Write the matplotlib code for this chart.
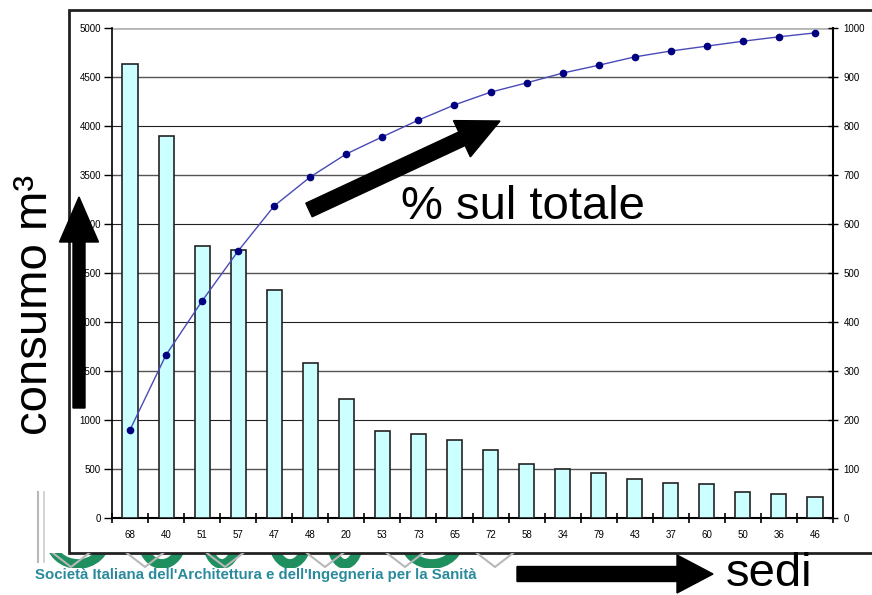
import matplotlib.pyplot as plt
import numpy as np
from matplotlib.patches import Ellipse, FancyArrow, Rectangle

plt.rcParams["font.family"] = ["Liberation Sans", "DejaVu Sans"]

sedi = ["68", "40", "51", "57", "47", "48", "20", "53", "73", "65",
        "72", "58", "34", "79", "43", "37", "60", "50", "36", "46"]
consumo = [4630, 3900, 2776, 2735, 2327, 1582, 1214, 888, 857, 796,
           694, 551, 500, 459, 398, 357, 347, 265, 245, 214]
cumulata = [180, 333, 443, 545, 637, 696, 743, 778, 812, 843,
            869, 888, 908, 924, 941, 953, 963, 973, 982, 990]

W, H = 872, 595
fig = plt.figure(figsize=(W / 100, H / 100), dpi=100)

# background layer: logo remnants and the white frame of the chart
bg = fig.add_axes([0, 0, 1, 1], zorder=0)
bg.set_xlim(0, W)
bg.set_ylim(H, 0)
bg.axis("off")
strip = Rectangle((0, 553), W, 15, transform=bg.transData)
for x0 in [36, 110, 190, 290, 370, 460]:
    (chev,) = bg.plot([x0, x0 + 35, x0 + 70], [540, 567, 540], color="#b8b8b8", lw=1.5)
    chev.set_clip_path(strip)
bg.plot([38, 38], [492, 562], color="#b8b8b8", lw=1.5)
bg.plot([44, 44], [492, 562], color="#cccccc", lw=1.2)
for cx, w in [(78, 56), (162, 40), (222, 30), (290, 34), (345, 28), (432, 56)]:
    ring = Ellipse((cx, 538), w, 52, fill=False, edgecolor="#1f8f5f", lw=7)
    bg.add_patch(ring)
    ring.set_clip_path(strip)
bg.add_patch(Rectangle((69, 10), 820, 543, facecolor="white", edgecolor="#222222", lw=2))
bg.text(35, 575, "Società Italiana dell'Architettura e dell'Ingegneria per la Sanità",
        color="#2a8a9c", fontsize=10.8, fontweight="bold", va="center", ha="left")

ax = fig.add_axes([112 / W, 1 - 518 / H, (833 - 112) / W, (518 - 28) / H], zorder=1)
ax.patch.set_alpha(0)
x = np.arange(len(sedi))
ax.bar(x, consumo, width=0.42, color="#ccffff", edgecolor="#222222", lw=1.2, zorder=3)
ax.set_xlim(-0.5, len(sedi) - 0.5)
ax.set_ylim(0, 5000)
ax.set_yticks(np.arange(0, 5001, 500))
for v in np.arange(500, 5000, 500):
    ax.axhline(v, color="#555555" if v % 1000 else "#222222", lw=1.0 if v % 1000 else 0.8, zorder=1)
ax.axhline(5000, color="#b5b5b5", lw=2, zorder=1)
ax.set_xticks(np.arange(-0.5, len(sedi)), labels=[])
ax.set_xticks(x, labels=sedi, minor=True)
ax.tick_params(axis="x", which="major", direction="inout", length=7, width=1.2)
ax.tick_params(axis="x", which="minor", length=0, pad=9, labelsize=7)
ax.tick_params(axis="y", direction="out", length=6, width=1, labelsize=7, pad=2)
ax.spines["top"].set_visible(False)
ax.spines["right"].set_visible(False)
ax.spines["bottom"].set_linewidth(1.5)
ax.spines["left"].set_linewidth(1.2)

ax2 = ax.twinx()
ax2.plot(x, cumulata, color="#4a4ab8", lw=1.0, marker="o", ms=4.5,
         mfc="#000080", mec="#000080", zorder=4)
ax2.set_ylim(0, 1000)
ax2.set_yticks(np.arange(0, 1001, 100))
ax2.tick_params(axis="y", direction="inout", length=7, width=1, labelsize=7, pad=4)
ax2.spines["top"].set_visible(False)
ax2.spines["left"].set_visible(False)
ax2.spines["bottom"].set_visible(False)
ax2.spines["right"].set_linewidth(1.5)

# overlay: arrows and big labels
ov = fig.add_axes([0, 0, 1, 1], zorder=5)
ov.set_xlim(0, W)
ov.set_ylim(H, 0)
ov.axis("off")
ov.add_patch(FancyArrow(79, 408, 0, -211, width=12, head_width=39, head_length=45,
                        length_includes_head=True, color="black"))
ov.add_patch(FancyArrow(309, 210, 191, -89, width=15, head_width=40, head_length=42,
                        length_includes_head=True, color="black"))
ov.add_patch(FancyArrow(517, 574, 196, 0, width=15, head_width=38, head_length=36,
                        length_includes_head=True, color="black"))
ov.text(35, 305, "consumo m³", rotation=90, fontsize=34, ha="center", va="center")
ov.text(401, 207, "% sul totale", fontsize=34, ha="left", va="center")
ov.text(726, 574, "sedi", fontsize=34, ha="left", va="center")

fig.savefig("out.png", dpi=100)
